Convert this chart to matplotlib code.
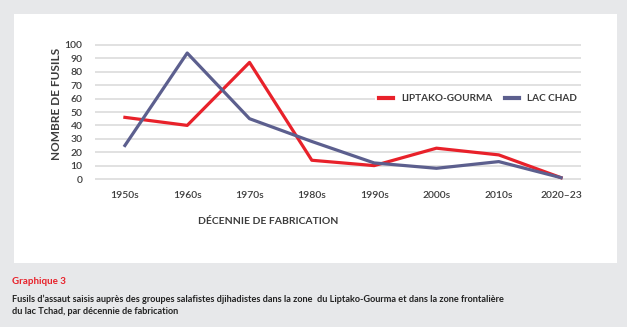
#------------------------------------------------------------------
# Fusils d'assaut par décennie de fabrication.
#
import matplotlib
matplotlib.use( 'Agg' )
from matplotlib import pyplot as plt
from matplotlib.patches import Rectangle

#------------------------------------------------------------------
# Data.
#
decades = [ '1950s', '1960s', '1970s', '1980s', '1990s', '2000s', '2010s', '2020–23' ]
liptako = [ 46, 40, 87, 14, 10, 23, 18, 1 ]
lac_chad = [ 25, 94, 45, 28, 12, 8, 13, 1 ]
yticks = [ 0, 10, 20, 30, 40, 50, 60, 70, 80, 90, 100 ]

RED = '#e8212a'
BLUE = '#5c5f8e'
TXT = '#3c3c3c'
W, H = 627, 327

plt.rcParams[ 'font.family' ] = [ 'Lato', 'DejaVu Sans' ]

fig = plt.figure( figsize = ( W / 100, H / 100 ), dpi = 100 )
fig.patch.set_facecolor( '#e7e8ea' )

# White panel behind the chart.
fig.patches.append( Rectangle( ( 14 / W, 1 - 263 / H ), 603 / W, 249 / H,
                               transform = fig.transFigure, facecolor = 'white',
                               edgecolor = 'none', zorder = -5 ) )

ax = fig.add_axes( [ 95 / W, 1 - 181.7 / H, 486 / W, 139.4 / H ] )
ax.set_facecolor( 'none' )
x = range( len( decades ) )
ax.plot( x, liptako, color = RED, linewidth = 2.3, label = 'LIPTAKO-GOURMA', zorder = 3 )
ax.plot( x, lac_chad, color = BLUE, linewidth = 2.3, label = 'LAC CHAD', zorder = 3 )

ax.set_xlim( -0.48, 7.32 )
ax.set_ylim( -2, 102 )
ax.set_xticks( list( x ) )
ax.set_xticklabels( decades )
ax.set_yticks( yticks )
ax.grid( axis = 'y', color = '#d8d8d8', linewidth = 1.1 )
ax.set_axisbelow( True )
for s in ax.spines.values():
    s.set_visible( False )
ax.tick_params( axis = 'both', length = 0, labelsize = 7.5, colors = TXT )
ax.tick_params( axis = 'x', pad = 7 )
ax.tick_params( axis = 'y', pad = 9 )
for lbl in ax.get_xticklabels() + ax.get_yticklabels():
    lbl.set_fontweight( 'semibold' )

leg = ax.legend( loc = 'center right', bbox_to_anchor = ( 1.0, ( 60 + 2 ) / 104 ),
                 ncol = 2, frameon = True, facecolor = 'white', edgecolor = 'none',
                 framealpha = 1, fontsize = 7.2, handlelength = 1.4,
                 columnspacing = 1.3, handletextpad = 0.8, borderpad = 0.4,
                 borderaxespad = 0 )
leg.get_frame().set_boxstyle( 'square', pad = 0 )
for line in leg.get_lines():
    line.set_linewidth( 3 )
for t in leg.get_texts():
    t.set_fontweight( 'bold' )
    t.set_color( TXT )

fig.text( 57 / W, 1 - 104 / H, 'NOMBRE DE FUSILS', rotation = 90, ha = 'center',
          va = 'center', fontsize = 8.5, fontweight = 'bold', color = TXT )
fig.text( 268 / W, 1 - 221 / H, 'DÉCENNIE DE FABRICATION', ha = 'center',
          va = 'center', fontsize = 7.5, fontweight = 'bold', color = TXT )

# Caption.
fig.text( 12 / W, 1 - 281 / H, 'Graphique 3', ha = 'left', va = 'center',
          fontsize = 7, fontweight = 'bold', color = RED )
fig.text( 12 / W, 1 - 299 / H,
          'Fusils d’assaut saisis auprès des groupes salafistes djihadistes dans la zone  du Liptako-Gourma et dans la zone frontalière',
          ha = 'left', va = 'center', fontsize = 6.6, fontweight = 'bold', color = '#222222' )
fig.text( 12 / W, 1 - 312 / H, 'du lac Tchad, par décennie de fabrication',
          ha = 'left', va = 'center', fontsize = 6.6, fontweight = 'bold', color = '#222222' )

fig.savefig( 'out.png', dpi = 100 )
